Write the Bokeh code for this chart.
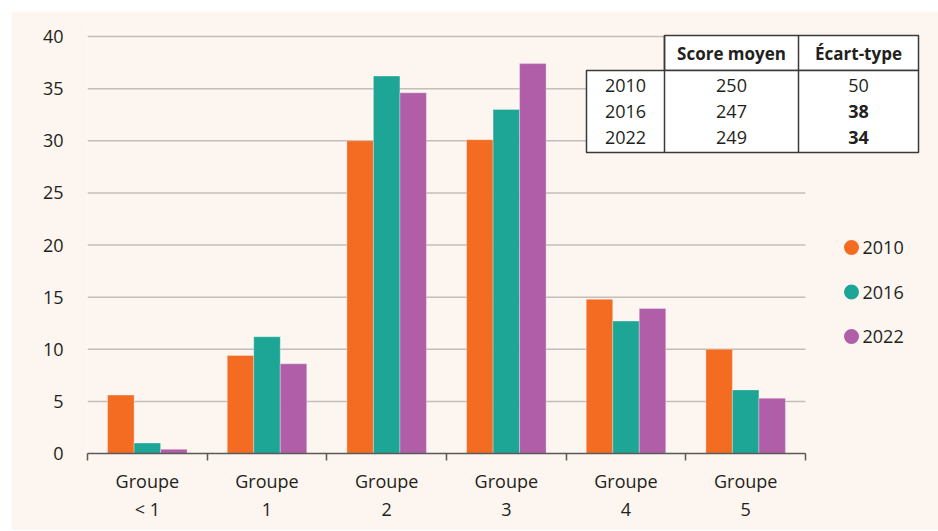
from bokeh.plotting import figure
from bokeh.models import Range1d, FixedTicker, ColumnDataSource
from bokeh.core.properties import value
from bokeh.embed import file_html
from bokeh.resources import INLINE

# ---------------- data ----------------
categories = ["Groupe\n< 1", "Groupe\n1", "Groupe\n2", "Groupe\n3", "Groupe\n4", "Groupe\n5"]
years = ["2010", "2016", "2022"]
v2010 = [5.6, 9.4, 30.0, 30.1, 14.8, 10.0]
v2016 = [1.0, 11.2, 36.2, 33.0, 12.7, 6.1]
v2022 = [0.4, 8.6, 34.6, 37.4, 13.9, 5.3]
y_ticks = [0, 5, 10, 15, 20, 25, 30, 35, 40]

table_header = ["Score moyen", "Écart-type"]
table_years = ["2010", "2016", "2022"]
score_moyen = ["250", "247", "249"]
ecart_type = ["50", "38", "34"]
ecart_style = ["normal", "bold", "bold"]

# ---------------- style ----------------
colors = ["#F36C21", "#1DA596", "#AF5EA7"]
BG = "#FDF5EF"
TXT = "#231F20"
GRID = "#C2BEBB"
AXIS = "#5A5A5A"
FONT = "Open Sans"
FS = "18px"

OFF = 11                    # page px where the panel starts
W, H = 938 - OFF, 530 - OFF
OX, OY = 87, 453            # page px of data origin
PXC = (805 - 87) / 6.0      # pixels per category
PYU = (453 - 36) / 40.0     # pixels per unit
FRAME_TOP = 24              # page px
LEFT = OX - OFF
TOP = FRAME_TOP - OFF
BOTTOM = H - (OY - OFF)

def px2x(px):
    return (px - OX) / PXC

def py2y(py):
    return (OY - py) / PYU

n = len(categories)
x_end = (W - LEFT) / PXC
y_end = (OY - FRAME_TOP) / PYU

p = figure(width=W, height=H, output_backend="svg", toolbar_location=None,
           x_range=Range1d(0, x_end), y_range=Range1d(0, y_end),
           min_border_left=LEFT, min_border_right=0, min_border_top=TOP,
           min_border_bottom=BOTTOM, background_fill_color=BG,
           border_fill_color=BG, outline_line_color=None)
p.margin = (OFF, 0, 0, OFF)
p.xgrid.visible = False
p.ygrid.visible = False

# gridlines (drawn over category span only)
grid_y = [t for t in y_ticks if t > 0]
p.segment(x0=[0] * len(grid_y), x1=[n] * len(grid_y), y0=grid_y, y1=grid_y,
          line_color=GRID, line_width=1.5)

# bars
w = 26.5 / PXC
for j, (vals, c) in enumerate(zip([v2010, v2016, v2022], colors)):
    xs = [i + 0.5 + (j - 1) * w for i in range(n)]
    p.vbar(x=xs, top=vals, width=w, bottom=0, fill_color=c,
           line_color="white", line_alpha=0.5, line_width=0.6)

# y axis
ya = p.yaxis[0]
ya.ticker = FixedTicker(ticks=y_ticks)
ya.axis_line_color = None
ya.major_tick_line_color = None
ya.minor_tick_line_color = None
ya.major_tick_out = 0
ya.major_label_standoff = 24
ya.major_label_text_font = FONT
ya.major_label_text_font_size = FS
ya.major_label_text_color = TXT

# x axis
xa = p.xaxis[0]
centers = [i + 0.5 for i in range(n)]
xa.ticker = FixedTicker(ticks=centers, minor_ticks=list(range(n + 1)))
xa.major_label_overrides = {c: lab for c, lab in zip(centers, categories)}
xa.bounds = (0, n)
xa.axis_line_color = AXIS
xa.axis_line_width = 1.5
xa.major_tick_line_color = None
xa.major_tick_out = 0
xa.major_tick_in = 0
xa.minor_tick_line_color = AXIS
xa.minor_tick_line_width = 1.5
xa.minor_tick_out = 7
xa.minor_tick_in = 0
xa.major_label_standoff = 8
xa.major_label_text_font = FONT
xa.major_label_text_font_size = FS
xa.major_label_text_color = TXT

# ---------------- table ----------------
TL, TC1, TC2, TR = 586, 664, 798, 918
TTOP, THEAD, TBOT = 35, 70, 152
row_y = [85, 111, 137]
p.quad(left=[px2x(TC1), px2x(TL)], right=[px2x(TR), px2x(TR)],
       top=[py2y(TTOP), py2y(THEAD)], bottom=[py2y(THEAD), py2y(TBOT)],
       fill_color="white", line_color="#3A3A3A", line_width=1.5)
p.segment(x0=[px2x(TC1), px2x(TC2)], x1=[px2x(TC1), px2x(TC2)],
          y0=[py2y(TTOP)] * 2, y1=[py2y(TBOT)] * 2,
          line_color="#3A3A3A", line_width=1.5)
hx = [px2x((TC1 + TC2) / 2), px2x((TC2 + TR) / 2)]
p.text(x=hx, y=[py2y(52.5)] * 2, text=table_header, text_align="center",
       text_baseline="middle", text_font=value(FONT), text_font_size="17px",
       text_font_style="bold", text_color=TXT)
p.text(x=[px2x((TL + TC1) / 2)] * 3, y=[py2y(v) for v in row_y], text=table_years,
       text_align="center", text_baseline="middle", text_font=value(FONT),
       text_font_size=FS, text_color=TXT)
p.text(x=[hx[0]] * 3, y=[py2y(v) for v in row_y], text=score_moyen,
       text_align="center", text_baseline="middle", text_font=value(FONT),
       text_font_size=FS, text_color=TXT)
src_e = ColumnDataSource(dict(x=[hx[1]] * 3, y=[py2y(v) for v in row_y],
                              t=ecart_type, s=ecart_style))
p.text(x="x", y="y", text="t", text_font_style="s", source=src_e,
       text_align="center", text_baseline="middle", text_font=value(FONT),
       text_font_size=FS, text_color=TXT)

# ---------------- legend ----------------
leg_y = [py2y(247 + k * 44.5) for k in range(len(years))]
p.scatter(x=[px2x(851)] * len(years), y=leg_y, size=15, fill_color=colors,
          line_color=None)
p.text(x=[px2x(862)] * len(years), y=leg_y, text=years, text_align="left",
       text_baseline="middle", text_font=value(FONT), text_font_size=FS,
       text_color=TXT)

open("out.html", "w").write(file_html(p, INLINE))
